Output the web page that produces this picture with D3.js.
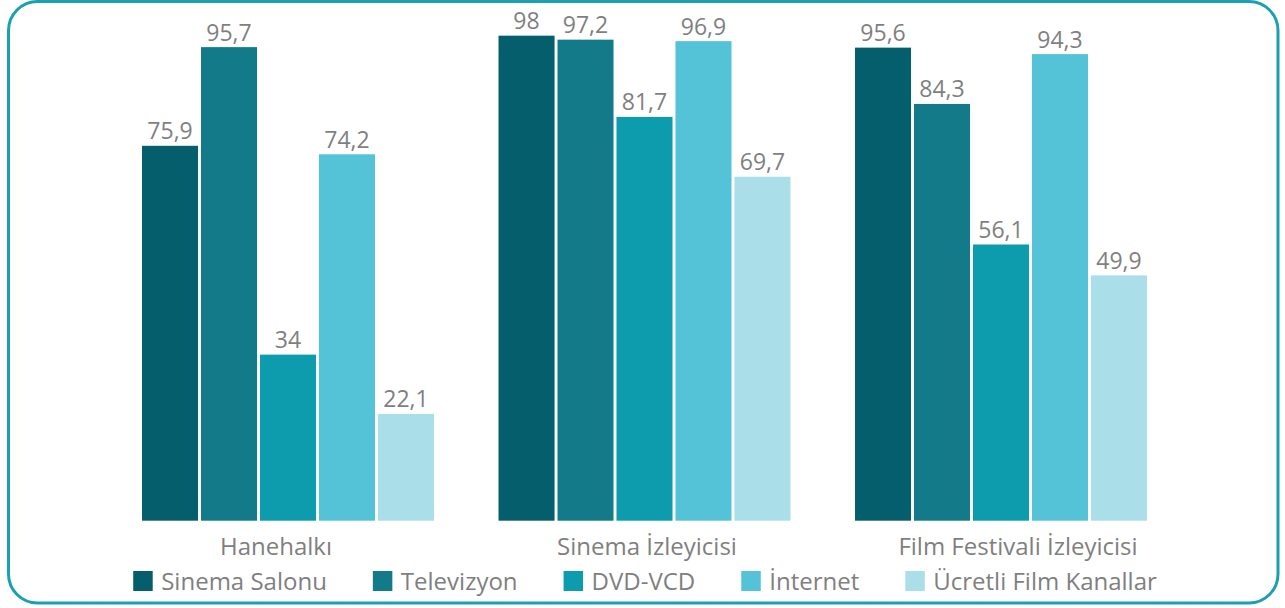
<!DOCTYPE html>
<html>
<head>
<meta charset="utf-8">
<script src="https://cdn.jsdelivr.net/npm/d3@7"></script>
<style>
  html, body { margin: 0; padding: 0; background: #ffffff; }
  svg { display: block; font-family: "Open Sans", "DejaVu Sans", sans-serif; }
</style>
</head>
<body>
<svg id="chart" width="1285" height="608"></svg>
<script>
const categories = ["Hanehalkı", "Sinema İzleyicisi", "Film Festivali İzleyicisi"];
const seriesNames = ["Sinema Salonu", "Televizyon", "DVD-VCD", "İnternet", "Ücretli Film Kanallar"];
const sinemaSalonu = [75.9, 98, 95.6];
const televizyon = [95.7, 97.2, 84.3];
const dvdVcd = [34, 81.7, 56.1];
const internet = [74.2, 96.9, 94.3];
const ucretli = [22.1, 69.7, 49.9];
const valueLabels = [
  ["75,9", "98", "95,6"],
  ["95,7", "97,2", "84,3"],
  ["34", "81,7", "56,1"],
  ["74,2", "96,9", "94,3"],
  ["22,1", "69,7", "49,9"]
];
const colors = ["#055e6c", "#127a89", "#0d9bae", "#54c3d7", "#aadfea"];

const seriesValues = [sinemaSalonu, televizyon, dvdVcd, internet, ucretli];

const svg = d3.select("#chart");
const textColor = "#7f7f7f";

// frame
svg.append("rect")
  .attr("x", 8.5).attr("y", 1.5)
  .attr("width", 1278 - 8.5).attr("height", 603 - 1.5)
  .attr("rx", 29).attr("ry", 29)
  .attr("fill", "#ffffff")
  .attr("stroke", "#1aa0b1")
  .attr("stroke-width", 3);

const x0 = d3.scaleBand().domain(categories).range([109.75, 1179.25])
  .paddingInner(0.181).paddingOuter(0.0905);
const x1 = d3.scaleBand().domain(d3.range(seriesNames.length))
  .range([0, x0.bandwidth()]).paddingInner(0.05).paddingOuter(0);
const yMin = 0.68;
const y = d3.scaleLinear().domain([yMin, 100]).range([520.7, 25.7]);

const labelScale = d3.scaleBand().domain(categories).range([90.5, 1203.5]);

const groups = svg.selectAll("g.cat")
  .data(categories)
  .join("g")
  .attr("class", "cat")
  .attr("transform", d => `translate(${x0(d)},0)`);

seriesValues.forEach((vals, si) => {
  groups.append("rect")
    .attr("x", x1(si))
    .attr("width", x1.bandwidth())
    .attr("y", (d, ci) => y(vals[ci]))
    .attr("height", (d, ci) => y(yMin) - y(vals[ci]))
    .attr("fill", colors[si]);
  groups.append("text")
    .attr("x", x1(si) + x1.bandwidth() / 2)
    .attr("y", (d, ci) => y(vals[ci]) - 6.5)
    .attr("text-anchor", "middle")
    .attr("font-size", 23)
    .attr("fill", textColor)
    .text((d, ci) => valueLabels[si][ci]);
});

// category labels
svg.selectAll("text.catlabel")
  .data(categories)
  .join("text")
  .attr("class", "catlabel")
  .attr("x", d => labelScale(d) + labelScale.bandwidth() / 2)
  .attr("y", 555)
  .attr("text-anchor", "middle")
  .attr("font-size", 24)
  .attr("fill", textColor)
  .text(d => d);

// legend
const legend = svg.append("g");
let cx = 0;
seriesNames.forEach((name, i) => {
  const g = legend.append("g");
  g.append("rect").attr("x", 0).attr("y", 571).attr("width", 19.5).attr("height", 20).attr("fill", colors[i]);
  const t = g.append("text").attr("x", 28).attr("y", 590).attr("font-size", 24).attr("fill", textColor).text(name);
  const w = 28 + t.node().getComputedTextLength();
  g.attr("transform", `translate(${cx},0)`);
  cx += w + 46;
});
const totalW = cx - 46;
legend.attr("transform", `translate(${645 - totalW / 2},0)`);
</script>
</body>
</html>
